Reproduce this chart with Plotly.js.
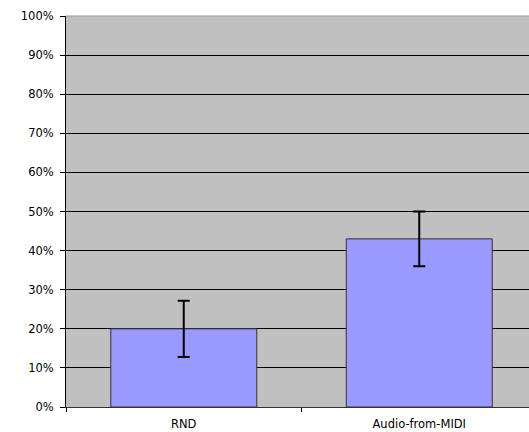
<!DOCTYPE html>
<html>
<head>
<meta charset="utf-8">
<script src="https://cdn.plot.ly/plotly-3.0.1.min.js"></script>
<style>html,body{margin:0;padding:0;background:#fff;overflow:hidden;}</style>
</head>
<body>
<div id="chart" style="width:529px;height:432px;"></div>
<script>
const categories = ["RND", "Audio-from-MIDI"];
const values = [0.20, 0.43];
const errors = [0.072, 0.07];
const yTickVals = [0, 0.1, 0.2, 0.3, 0.4, 0.5, 0.6, 0.7, 0.8, 0.9, 1.0];
const yTickText = ["0%", "10%", "20%", "30%", "40%", "50%", "60%", "70%", "80%", "90%", "100%"];

const trace = {
  type: "bar",
  x: categories,
  y: values,
  width: 0.62,
  marker: {color: "#9999ff", line: {color: "#333333", width: 1}},
  error_y: {type: "data", array: errors, visible: true, color: "#000000", thickness: 2, width: 6},
  hoverinfo: "none"
};

const layout = {
  width: 529,
  height: 432,
  margin: {l: 66, r: 0, t: 16, b: 25},
  paper_bgcolor: "#ffffff",
  plot_bgcolor: "#c0c0c0",
  showlegend: false,
  font: {family: "DejaVu Sans, Verdana, sans-serif", size: 12, color: "#000"},
  xaxis: {
    type: "category",
    range: [-0.5, 1.466],
    tickson: "boundaries",
    ticks: "outside",
    ticklen: 4,
    tickcolor: "#000",
    showline: true,
    linecolor: "#333",
    linewidth: 1,
    showgrid: false,
    tickfont: {size: 11.5, color: "#000"},
    ticklabelstandoff: 6
  },
  yaxis: {
    range: [0, 1],
    tickvals: yTickVals,
    ticktext: yTickText,
    ticks: "outside",
    ticklen: 5,
    tickcolor: "#000",
    showline: true,
    linecolor: "#000",
    linewidth: 1,
    showgrid: true,
    gridcolor: "#000",
    gridwidth: 1,
    zeroline: false,
    tickfont: {size: 11.5, color: "#000"},
    ticklabelstandoff: 4
  },
  shapes: [
    {type: "line", xref: "paper", yref: "paper", x0: 0, x1: 1, y0: 1, y1: 1, line: {color: "#999999", width: 1}}
  ]
};

Plotly.newPlot("chart", [trace], layout, {displayModeBar: false, staticPlot: true});
</script>
</body>
</html>
